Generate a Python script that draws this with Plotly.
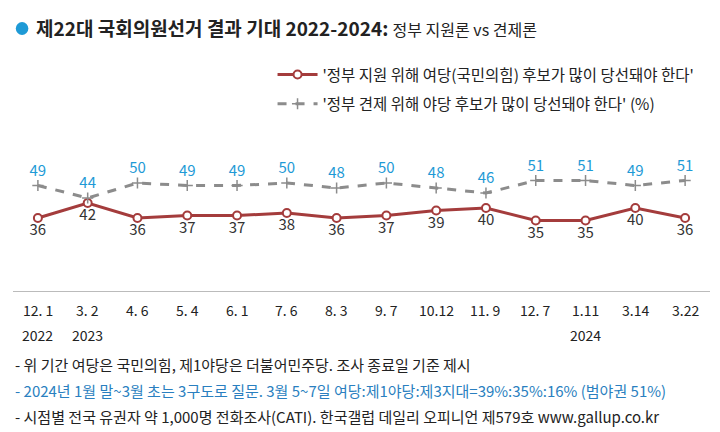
import plotly.graph_objects as go

dates = ["12. 1", "3. 2", "4. 6", "5. 4", "6. 1", "7. 6", "8. 3", "9. 7", "10.12", "11. 9", "12. 7", "1.11", "3.14", "3.22"]
years = {0: "2022", 1: "2023", 11: "2024"}
support = [36, 42, 36, 37, 37, 38, 36, 37, 39, 40, 35, 35, 40, 36]
check = [49, 44, 50, 49, 49, 50, 48, 50, 48, 46, 51, 51, 49, 51]

RED = "#a43c3c"
BLUE = "#1e9ad6"
GRAY = "#8c8c8c"
FONT = "Noto Sans CJK KR"
x = list(range(len(dates)))

fig = go.Figure()
fig.add_trace(go.Scatter(x=x, y=support, mode="lines+markers+text", name="'정부 지원 위해 여당(국민의힘) 후보가 많이 당선돼야 한다'",
    legendgroup="a",
    line=dict(color=RED, width=3), marker=dict(symbol="circle", size=8, color="white", line=dict(color=RED, width=2)),
    text=[str(v) for v in support], textposition="bottom center", textfont=dict(size=15, color="#333")))
fig.add_trace(go.Scatter(x=x, y=check, mode="lines+markers+text", name="'정부 견제 위해 야당 후보가 많이 당선돼야 한다' (%)",
    legendgroup="b",
    line=dict(color=GRAY, width=3, dash="dash"), marker=dict(symbol="cross-thin", size=8, line=dict(color=GRAY, width=1.5)),
    text=[str(v) for v in check], textposition="top center", textfont=dict(size=15, color=BLUE)))

TOP, BOT = 130, 283
H = BOT - TOP
def py(pix):
    return (BOT - pix) / H

ann = []
for i, d in enumerate(dates):
    ann.append(dict(x=i, y=py(302), xref="x", yref="paper", yanchor="middle", text=d, showarrow=False, font=dict(size=14, color="#222")))
for i, yv in years.items():
    ann.append(dict(x=i, y=py(327), xref="x", yref="paper", yanchor="middle", text=yv, showarrow=False, font=dict(size=14, color="#222")))
ann.append(dict(x=0.03, y=py(20), xref="paper", yref="paper", xanchor="left", yanchor="middle", showarrow=False,
    text="<b>제22대 국회의원선거 결과 기대 2022-2024:</b> <span style='font-size:16px'>정부 지원론 vs 견제론</span>",
    font=dict(size=19, color="#222")))
notes = [("- 위 기간 여당은 국민의힘, 제1야당은 더불어민주당. 조사 종료일 기준 제시", "#222"),
         ("- 2024년 1월 말~3월 초는 3구도로 질문. 3월 5~7일 여당:제1야당:제3지대=39%:35%:16% (범야권 51%)", "#2a7fc0"),
         ("- 시점별 전국 유권자 약 1,000명 전화조사(CATI). 한국갤럽 데일리 오피니언 제579호 www.gallup.co.kr", "#222")]
for k, (t, c) in enumerate(notes):
    ann.append(dict(x=0.0, y=py(356 + 26 * k), xref="paper", yref="paper", xanchor="left", yanchor="middle", showarrow=False,
        text=t, font=dict(size=15, color=c)))

fig.update_layout(
    width=720, height=432, margin=dict(l=5, r=18, t=TOP, b=432 - BOT, autoexpand=False),
    paper_bgcolor="white", plot_bgcolor="white", font=dict(family=FONT),
    xaxis=dict(range=[-0.5, 13.5], showticklabels=False, showgrid=False, zeroline=False,
               showline=True, linecolor="#bbb", linewidth=1),
    yaxis=dict(range=[6.8, 68.0], visible=False),
    legend=dict(x=0.985, xanchor="right", y=py(50), yanchor="top", font=dict(size=15.5, color="#222"),
                bgcolor="rgba(0,0,0,0)", itemwidth=40, tracegroupgap=6, traceorder="grouped"),
    showlegend=True,
    annotations=ann,
)
fig.add_shape(type="circle", xref="paper", yref="paper", x0=0.004, x1=0.022, y0=py(14), y1=py(27),
              fillcolor=BLUE, line=dict(width=0))
fig.write_html("out.html")
